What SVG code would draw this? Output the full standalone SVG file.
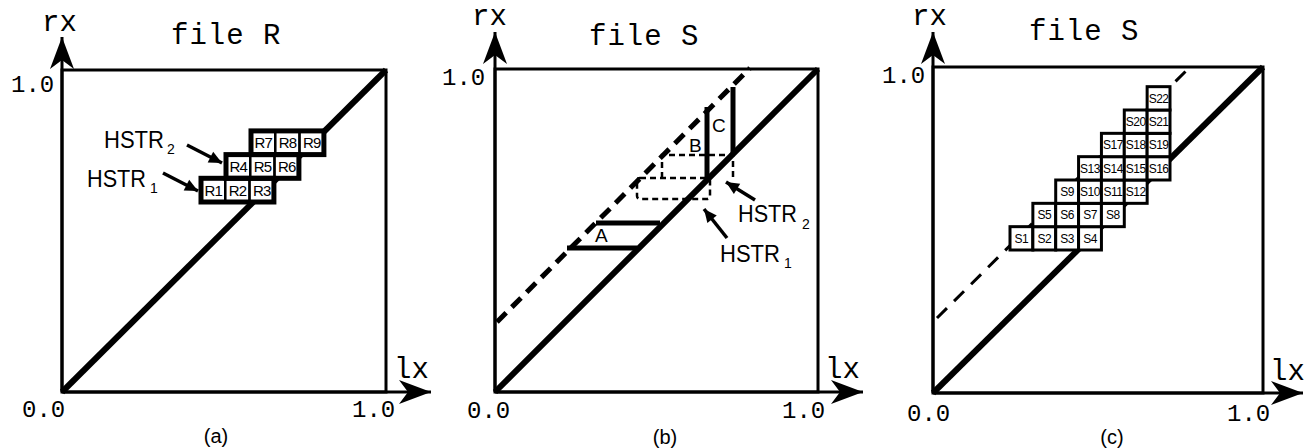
<svg xmlns="http://www.w3.org/2000/svg" width="1305" height="448" viewBox="0 0 1305 448">
<style>
.mono{font-family:"Liberation Mono","Courier New",monospace;fill:#000}
.ax{font-size:29px}
.num{font-size:24px}
.ttl{font-size:29px;letter-spacing:1px}
.sans{font-family:"Liberation Sans",Arial,sans-serif;fill:#000}
.cap{font-size:20px;text-anchor:middle}
.hs{font-size:24px}
.sub{font-size:14px}
.lab{font-size:19px}
.cr{font-size:15px;text-anchor:middle;letter-spacing:-0.8px}
.cs{font-size:12px;text-anchor:middle;letter-spacing:-0.5px}
.box{fill:none;stroke:#000;stroke-width:3}
.axis{fill:none;stroke:#000;stroke-width:3}
.diag{stroke:#000;stroke-width:6;stroke-linecap:butt}
.thick{stroke:#000;stroke-width:5;fill:none}
.dash{stroke:#000;stroke-width:5;stroke-dasharray:13 8;fill:none}
.dashc{stroke:#000;stroke-width:3;stroke-dasharray:14 10;fill:none}
.hrect{fill:none;stroke:#000;stroke-width:2.5;stroke-dasharray:6 4}
.ptr{stroke:#000;stroke-width:3.5;fill:none}
.cell{fill:#fff;stroke:#000;stroke-width:2.5}
.row{fill:none;stroke:#000;stroke-width:5}
.cellc{fill:#fff;stroke:#000;stroke-width:3}
</style>
<defs>
<marker id="axhead" viewBox="-33 -13 35 26" refX="0" refY="0" markerWidth="35" markerHeight="26" markerUnits="userSpaceOnUse" orient="auto">
<path d="M0,0 L-32,-12 L-23,0 L-32,12 Z" fill="#000"/>
</marker>
<marker id="ptrhead" viewBox="-14 -7 15 14" refX="0" refY="0" markerWidth="15" markerHeight="14" markerUnits="userSpaceOnUse" orient="auto">
<path d="M0,0 L-13,-6 L-13,6 Z" fill="#000"/>
</marker>
</defs>

<!-- Panel (a) -->
<g id="panel-a">
<rect class="box" x="62" y="70" width="324" height="322"/>
<line class="diag" x1="62" y1="392" x2="386" y2="70"/>
<text class="mono ax" x="42" y="31">rx</text>
<text class="mono ttl" x="171" y="44">file R</text>
<text class="mono num" x="11" y="92">1.0</text>
<text class="mono num" x="22" y="417">0.0</text>
<text class="mono num" x="352" y="417">1.0</text>
<text class="mono ax" x="394" y="378">lx</text>
<text class="sans cap" x="216" y="443">(a)</text>
</g>
<g id="cells-a">
<rect class="cell" x="201" y="178.3" width="24.3" height="23.7"/>
<rect class="cell" x="225.3" y="178.3" width="24.3" height="23.7"/>
<rect class="cell" x="249.6" y="178.3" width="24.3" height="23.7"/>
<rect class="cell" x="226" y="154.6" width="24.3" height="23.7"/>
<rect class="cell" x="250.3" y="154.6" width="24.3" height="23.7"/>
<rect class="cell" x="274.6" y="154.6" width="24.3" height="23.7"/>
<rect class="cell" x="251" y="130.9" width="24.3" height="23.7"/>
<rect class="cell" x="275.3" y="130.9" width="24.3" height="23.7"/>
<rect class="cell" x="299.6" y="130.9" width="24.3" height="23.7"/>
<rect class="row" x="201" y="178.3" width="72.9" height="23.7"/>
<rect class="row" x="226" y="154.6" width="72.9" height="23.7"/>
<rect class="row" x="251" y="130.9" width="72.9" height="23.7"/>
<text class="sans cr" x="213.2" y="195.5">R1</text>
<text class="sans cr" x="237.5" y="195.5">R2</text>
<text class="sans cr" x="261.8" y="195.5">R3</text>
<text class="sans cr" x="238.2" y="171.8">R4</text>
<text class="sans cr" x="262.5" y="171.8">R5</text>
<text class="sans cr" x="286.8" y="171.8">R6</text>
<text class="sans cr" x="263.2" y="148.1">R7</text>
<text class="sans cr" x="287.5" y="148.1">R8</text>
<text class="sans cr" x="311.8" y="148.1">R9</text>
</g>
<g id="label-a-hstr2">
<text class="sans hs" x="104" y="148" textLength="60" lengthAdjust="spacingAndGlyphs">HSTR</text>
<text class="sans sub" x="167" y="154">2</text>
</g>
<g id="label-a-hstr1">
<text class="sans hs" x="87" y="187" textLength="59" lengthAdjust="spacingAndGlyphs">HSTR</text>
<text class="sans sub" x="150" y="193">1</text>
</g>

<!-- Panel (b) -->
<g id="panel-b">
<rect class="box" x="495" y="69" width="323" height="323"/>
<line class="diag" x1="495" y1="392" x2="818" y2="69"/>
<line class="dash" x1="497" y1="322" x2="750" y2="68"/>
<text class="mono ax" x="472" y="25">rx</text>
<text class="mono ttl" x="589" y="45">file S</text>
<text class="mono num" x="442" y="85">1.0</text>
<text class="mono num" x="467" y="418">0.0</text>
<text class="mono num" x="782" y="418">1.0</text>
<text class="mono ax" x="825" y="378">lx</text>
<text class="sans cap" x="665" y="444">(b)</text>
</g>
<g id="band-A">
<line class="thick" x1="596" y1="223" x2="660" y2="223"/>
<line class="thick" x1="567" y1="248" x2="637" y2="248"/>
<text class="sans lab" x="595" y="242">A</text>
</g>
<g id="band-B">
<text class="sans lab" x="689" y="152">B</text>
</g>
<g id="band-C">
<line class="thick" x1="707" y1="107" x2="707" y2="178"/>
<line class="thick" x1="733" y1="87" x2="733" y2="155"/>
<text class="sans lab" x="712" y="132">C</text>
</g>
<g id="hstr1-b">
<rect class="hrect" x="637" y="178" width="73" height="21" rx="3"/>
<text class="sans hs" x="720" y="262" textLength="60" lengthAdjust="spacingAndGlyphs">HSTR</text>
<text class="sans sub" x="784" y="268">1</text>
</g>
<g id="hstr2-b">
<path class="hrect" d="M662,178 L662,155 L733,155 L733,178"/>
<text class="sans hs" x="738" y="222" textLength="59" lengthAdjust="spacingAndGlyphs">HSTR</text>
<text class="sans sub" x="802" y="229">2</text>
</g>

<!-- Panel (c) -->
<g id="panel-c">
<rect class="box" x="933" y="67" width="330" height="326"/>
<line class="dashc" x1="937" y1="318" x2="1190" y2="67"/>
<line class="diag" x1="933" y1="393" x2="1263" y2="67"/>
<text class="mono ax" x="912" y="25">rx</text>
<text class="mono ttl" x="1029" y="40">file S</text>
<text class="mono num" x="882" y="83">1.0</text>
<text class="mono num" x="907" y="421">0.0</text>
<text class="mono num" x="1227" y="421">1.0</text>
<text class="mono ax" x="1270" y="380">lx</text>
<text class="sans cap" x="1112" y="444">(c)</text>
</g>
<g id="cells-c">
<rect class="cellc" x="1010" y="226.67" width="22.86" height="23.33"/>
<rect class="cellc" x="1032.86" y="226.67" width="22.86" height="23.33"/>
<rect class="cellc" x="1055.71" y="226.67" width="22.86" height="23.33"/>
<rect class="cellc" x="1078.57" y="226.67" width="22.86" height="23.33"/>
<rect class="cellc" x="1032.86" y="203.33" width="22.86" height="23.33"/>
<rect class="cellc" x="1055.71" y="203.33" width="22.86" height="23.33"/>
<rect class="cellc" x="1078.57" y="203.33" width="22.86" height="23.33"/>
<rect class="cellc" x="1101.43" y="203.33" width="22.86" height="23.33"/>
<rect class="cellc" x="1055.71" y="180" width="22.86" height="23.33"/>
<rect class="cellc" x="1078.57" y="180" width="22.86" height="23.33"/>
<rect class="cellc" x="1101.43" y="180" width="22.86" height="23.33"/>
<rect class="cellc" x="1124.29" y="180" width="22.86" height="23.33"/>
<rect class="cellc" x="1078.57" y="156.67" width="22.86" height="23.33"/>
<rect class="cellc" x="1101.43" y="156.67" width="22.86" height="23.33"/>
<rect class="cellc" x="1124.29" y="156.67" width="22.86" height="23.33"/>
<rect class="cellc" x="1147.14" y="156.67" width="22.86" height="23.33"/>
<rect class="cellc" x="1101.43" y="133.33" width="22.86" height="23.33"/>
<rect class="cellc" x="1124.29" y="133.33" width="22.86" height="23.33"/>
<rect class="cellc" x="1147.14" y="133.33" width="22.86" height="23.33"/>
<rect class="cellc" x="1124.29" y="110" width="22.86" height="23.33"/>
<rect class="cellc" x="1147.14" y="110" width="22.86" height="23.33"/>
<rect class="cellc" x="1147.14" y="86.67" width="22.86" height="23.33"/>
<text class="sans cs" x="1021.4" y="242.7">S1</text>
<text class="sans cs" x="1044.3" y="242.7">S2</text>
<text class="sans cs" x="1067.1" y="242.7">S3</text>
<text class="sans cs" x="1090.0" y="242.7">S4</text>
<text class="sans cs" x="1044.3" y="219.3">S5</text>
<text class="sans cs" x="1067.1" y="219.3">S6</text>
<text class="sans cs" x="1090.0" y="219.3">S7</text>
<text class="sans cs" x="1112.9" y="219.3">S8</text>
<text class="sans cs" x="1067.1" y="196">S9</text>
<text class="sans cs" x="1090.0" y="196">S10</text>
<text class="sans cs" x="1112.9" y="196">S11</text>
<text class="sans cs" x="1135.7" y="196">S12</text>
<text class="sans cs" x="1090.0" y="172.7">S13</text>
<text class="sans cs" x="1112.9" y="172.7">S14</text>
<text class="sans cs" x="1135.7" y="172.7">S15</text>
<text class="sans cs" x="1158.6" y="172.7">S16</text>
<text class="sans cs" x="1112.9" y="149.3">S17</text>
<text class="sans cs" x="1135.7" y="149.3">S18</text>
<text class="sans cs" x="1158.6" y="149.3">S19</text>
<text class="sans cs" x="1135.7" y="126">S20</text>
<text class="sans cs" x="1158.6" y="126">S21</text>
<text class="sans cs" x="1158.6" y="102.7">S22</text>
</g>

<g id="connectors">
<line class="axis" x1="62" y1="392" x2="62" y2="37" marker-end="url(#axhead)"/>
<line class="axis" x1="62" y1="392" x2="431" y2="392" marker-end="url(#axhead)"/>
<line class="axis" x1="495" y1="392" x2="495" y2="32" marker-end="url(#axhead)"/>
<line class="axis" x1="495" y1="392" x2="863" y2="392" marker-end="url(#axhead)"/>
<line class="axis" x1="933" y1="393" x2="933" y2="32" marker-end="url(#axhead)"/>
<line class="axis" x1="933" y1="393" x2="1303" y2="393" marker-end="url(#axhead)"/>
<line class="ptr" x1="187" y1="145" x2="222" y2="163" marker-end="url(#ptrhead)"/>
<line class="ptr" x1="163" y1="173" x2="198" y2="191" marker-end="url(#ptrhead)"/>
<line class="ptr" x1="755" y1="200" x2="726" y2="182" marker-end="url(#ptrhead)"/>
<line class="ptr" x1="727" y1="238" x2="704" y2="209" marker-end="url(#ptrhead)"/>
</g>
</svg>
